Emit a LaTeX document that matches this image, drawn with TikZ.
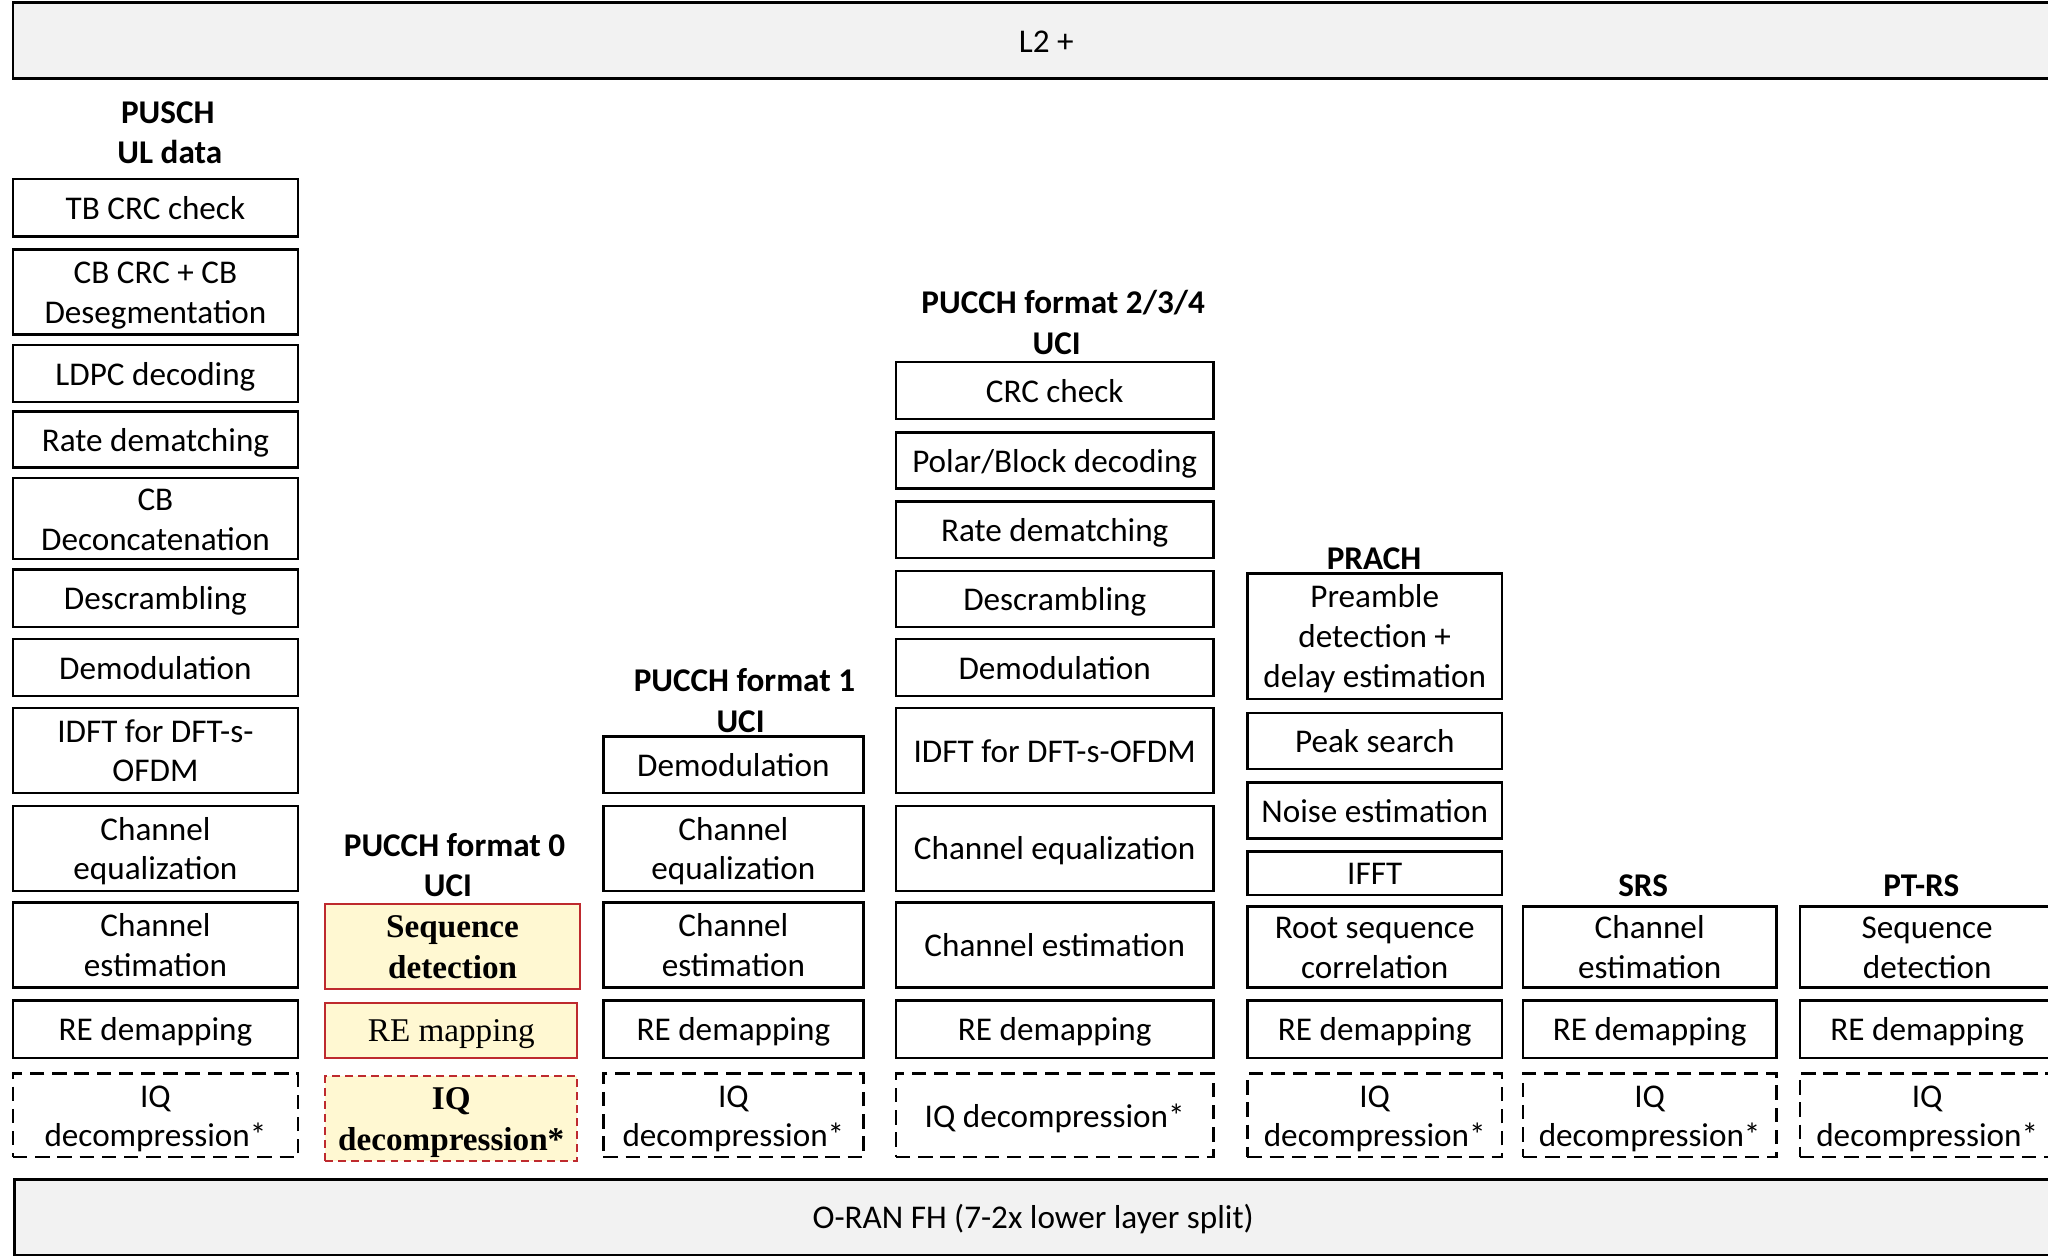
\documentclass[tikz,border=0pt]{standalone}
\usepackage{fontspec}
\setmainfont{Carlito}
\newfontfamily\tnr{Liberation Serif}
\definecolor{barfill}{HTML}{F2F2F2}
\definecolor{hlred}{HTML}{BE2A2E}
\definecolor{hlfill}{HTML}{FFF8D2}
\tikzset{
  blk/.style={draw=black, line width=1.8pt, inner sep=0pt, align=center,
    font=\fontsize{25.4}{30.5}\selectfont},
  iqbox/.style={blk, dash pattern=on 11pt off 6pt},
  hlbox/.style={blk, draw=hlred, fill=hlfill, line width=1.4pt,
    font=\tnr\fontsize{25.4}{31}\selectfont},
  hlbold/.style={hlbox, font=\tnr\bfseries\fontsize{25.4}{31}\selectfont},
  hliq/.style={hlbold, dash pattern=on 6pt off 4pt},
  bar/.style={blk, fill=barfill},
  ttl/.style={align=center, inner sep=0pt,
    font=\bfseries\fontsize{25.4}{31}\selectfont},
}
% uniform line extent, so text sits by font metrics rather than glyphs
\newcommand\lntop{\rule{0pt}{23pt}}
\newcommand\lnbot{\rule[-5.2pt]{0pt}{0pt}}
% \stage[style]{name}{x1}{y1}{x2}{y2}{text}: a box given by its corners
\newcommand\stage[7][blk]{%
  \pgfmathsetmacro\stw{#5-#3}%
  \pgfmathsetmacro\sth{#6-#4}%
  \pgfmathsetmacro\stx{(#3+#5)/2}%
  \pgfmathsetmacro\sty{(#4+#6)/2}%
  \node[#1, minimum width=\stw pt, minimum height=\sth pt] (#2) at (\stx,\sty) {\lntop#7\lnbot};}
\begin{document}
\begin{tikzpicture}[x=1pt,y=-1pt]
\useasboundingbox (0,0) rectangle (1568,963);
\clip (0,0) rectangle (1568,963);
\fill[white] (0,0) rectangle (1568,963);

% layer bars
\stage[bar]{l2}{10}{2}{1592}{60}{L2 +}
\stage[bar]{fh}{11}{903}{1571}{961}{O-RAN FH (7-2x lower layer split)}

% PUSCH chain
\node[ttl] (tpusch) at (130,101.5) {PUSCH\hspace*{3pt}\\UL data};
\stage{p1}{10}{137}{228}{181}{TB CRC check}
\stage{p2}{10}{191}{228}{256}{CB CRC + CB\\Desegmentation}
\stage{p3}{10}{264}{228}{308}{LDPC decoding}
\stage{p4}{10}{315}{228}{358}{Rate dematching}
\stage{p5}{10}{366}{228}{428}{CB\\Deconcatenation}
\stage{p6}{10}{436}{228}{480}{Descrambling}
\stage{p7}{10}{489}{228}{533}{Demodulation}
\stage{p8}{10}{542}{228}{607}{IDFT for DFT-s-\\OFDM}
\stage{p9}{10}{617}{228}{682}{Channel\\equalization}
\stage{p10}{10}{691}{228}{756}{Channel\\estimation}
\stage{p11}{10}{766}{228}{810}{RE demapping}
\stage[iqbox]{p12}{10}{822}{228}{886}{IQ\\decompression*}

% PUCCH format 0 chain
\node[ttl] (tf0) at (348,662.5) {PUCCH format 0\\UCI\hspace*{10pt}};
\stage[hlbold]{f0a}{249}{692}{444}{757}{Sequence\\detection}
\stage[hlbox]{f0b}{249}{768}{442}{810}{RE mapping}
\stage[hliq]{f0c}{249}{824}{442}{889}{IQ\\decompression*}

% PUCCH format 1 chain
\node[ttl] (tf1) at (570,536.5) {PUCCH format 1\\UCI\hspace*{6pt}};
\stage{f1a}{462}{564}{661}{607}{Demodulation}
\stage{f1b}{462}{617}{661}{682}{Channel\\equalization}
\stage{f1c}{462}{691}{661}{756}{Channel\\estimation}
\stage{f1d}{462}{766}{661}{810}{RE demapping}
\stage[iqbox]{f1e}{462}{822}{661}{886}{IQ\\decompression*}

% PUCCH format 2/3/4 chain
\node[ttl] (tf2) at (814,247) {PUCCH format 2/3/4\\UCI\hspace*{10pt}};
\stage{f2a}{686}{277}{929}{321}{CRC check}
\stage{f2b}{686}{331}{929}{374}{Polar/Block decoding}
\stage{f2c}{686}{384}{929}{427}{Rate dematching}
\stage{f2d}{686}{437}{929}{480}{Descrambling}
\stage{f2e}{686}{489}{929}{533}{Demodulation}
\stage{f2f}{686}{542}{929}{607}{IDFT for DFT-s-OFDM}
\stage{f2g}{686}{617}{929}{682}{Channel equalization}
\stage{f2h}{686}{691}{929}{756}{Channel estimation}
\stage{f2i}{686}{766}{929}{810}{RE demapping}
\stage[iqbox]{f2j}{686}{822}{929}{886}{IQ decompression*}

% PRACH chain
\node[ttl] (tpr) at (1052,428) {PRACH};
\stage{pr1}{955}{439}{1150}{535}{Preamble\\detection +\\delay estimation}
\stage{pr2}{955}{546}{1150}{589}{Peak search}
\stage{pr3}{955}{599}{1150}{642}{Noise estimation}
\stage{pr4}{955}{652}{1150}{685}{IFFT}
\stage{pr5}{955}{694}{1150}{756}{Root sequence\\correlation}
\stage{pr6}{955}{766}{1150}{810}{RE demapping}
\stage[iqbox]{pr7}{955}{822}{1150}{886}{IQ\\decompression*}

% SRS chain
\node[ttl] (tsrs) at (1258,678) {SRS};
\stage{s1}{1166}{694}{1360}{756}{Channel\\estimation}
\stage{s2}{1166}{766}{1360}{810}{RE demapping}
\stage[iqbox]{s3}{1166}{822}{1360}{886}{IQ\\decompression*}

% PT-RS chain
\node[ttl] (tpt) at (1471,678) {PT-RS};
\stage{t1}{1378}{694}{1573}{756}{Sequence\\detection}
\stage{t2}{1378}{766}{1573}{810}{RE demapping}
\stage[iqbox]{t3}{1378}{822}{1573}{886}{IQ\\decompression*}
\end{tikzpicture}
\end{document}
